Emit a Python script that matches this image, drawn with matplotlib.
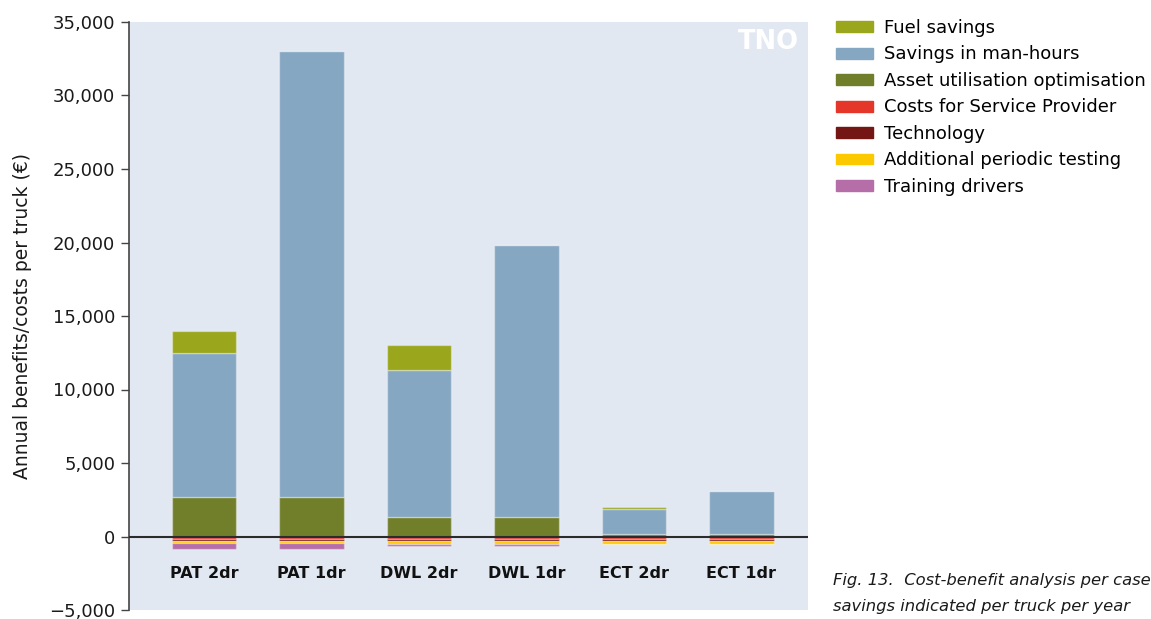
import numpy as np
import matplotlib
matplotlib.use("Agg")
import matplotlib.pyplot as plt
from matplotlib.patches import Patch
from matplotlib.ticker import FuncFormatter

# Cost-benefit per case (EUR per truck per year)
cases = ['PAT 2dr', 'PAT 1dr', 'DWL 2dr', 'DWL 1dr', 'ECT 2dr', 'ECT 1dr']

# benefits (stacked upwards)
asset_utilisation = [2700, 2700, 1300, 1300, 200, 180]
man_hours = [9800, 30350, 10000, 18500, 1640, 2930]
fuel_savings = [1500, 0, 1750, 0, 180, 0]

# costs (stacked downwards)
service_provider = [-140, -140, -140, -140, -140, -140]
technology = [-140, -140, -140, -140, -180, -200]
periodic_testing = [-180, -180, -200, -200, -180, -180]
training_drivers = [-400, -400, -180, -180, 0, 0]

kleuren = {
    'fuel': '#9aa61c',
    'man': '#86a7c2',
    'asset': '#727f2a',
    'service': '#e5362a',
    'tech': '#741613',
    'test': '#fcc800',
    'train': '#b56ea8',
}
bg = '#e2e8f2'

plt.rcParams['font.family'] = ['DejaVu Sans']

fig = plt.figure(figsize=(11.51, 6.19), dpi=100)
ax = fig.add_axes([129 / 1151, 1 - 610 / 619, (808 - 129) / 1151, (610 - 22) / 619])
ax.set_facecolor(bg)

x = np.arange(len(cases))
largura = 0.6
rand = dict(edgecolor=(1, 1, 1, 0.35), linewidth=1)

# positieve stapel
onder = np.zeros(len(cases))
for vals, k in [(asset_utilisation, 'asset'), (man_hours, 'man'), (fuel_savings, 'fuel')]:
    v = np.array(vals, dtype=float)
    ax.bar(x, v, largura, bottom=onder, color=kleuren[k], **rand)
    onder += v

# negatieve stapel
onder = np.zeros(len(cases))
for vals, k in [(service_provider, 'service'), (technology, 'tech'),
                (periodic_testing, 'test'), (training_drivers, 'train')]:
    v = np.array(vals, dtype=float)
    ax.bar(x, v, largura, bottom=onder, color=kleuren[k], **rand)
    onder += v

ax.axhline(0, color='#2b2b2b', linewidth=1.5, zorder=5)

ax.set_xlim(-0.70, 5.62)
ax.set_ylim(-5000, 35000)
ax.set_yticks(np.arange(-5000, 35001, 5000))
ax.yaxis.set_major_formatter(FuncFormatter(lambda v, p: f'{v:,.0f}'.replace('-', '\u2212')))
ax.tick_params(axis='y', length=6, width=1, color='#444444', labelsize=13, labelcolor='#1a1a1a', pad=4)
ax.set_xticks([])
for s in ['top', 'right', 'bottom']:
    ax.spines[s].set_visible(False)
ax.spines['left'].set_color('#444444')
ax.spines['left'].set_linewidth(1.2)

ax.set_ylabel('Annual benefits/costs per truck (€)', fontsize=13.5, color='#1a1a1a', labelpad=12)

# casus labels binnen het plotvlak
for xi, naam in zip(x, cases):
    ax.text(xi, -2550, naam, ha='center', va='center', fontsize=11.5, fontweight='bold', color='#111111')

# TNO logo
ax.text(0.987, 0.988, 'TNO', transform=ax.transAxes, ha='right', va='top',
        fontsize=18.5, fontweight='heavy', color='white')

# legenda
handles = [
    Patch(color=kleuren['fuel'], label='Fuel savings'),
    Patch(color=kleuren['man'], label='Savings in man-hours'),
    Patch(color=kleuren['asset'], label='Asset utilisation optimisation'),
    Patch(color=kleuren['service'], label='Costs for Service Provider'),
    Patch(color=kleuren['tech'], label='Technology'),
    Patch(color=kleuren['test'], label='Additional periodic testing'),
    Patch(color=kleuren['train'], label='Training drivers'),
]
fig.legend(handles=handles, loc='upper left', bbox_to_anchor=(836 / 1151, 1 - 19 / 619),
           frameon=False, fontsize=13.0, handlelength=2.05, handleheight=0.55,
           handletextpad=0.6, labelspacing=0.47, borderaxespad=0, borderpad=0)

# bijschrift
fig.text(833 / 1151, 1 - 581 / 619, 'Fig. 13.  Cost-benefit analysis per case',
         fontsize=11.8, style='italic', va='center', ha='left', color='#1a1a1a')
fig.text(833 / 1151, 1 - 606 / 619, 'savings indicated per truck per year',
         fontsize=11.8, style='italic', va='center', ha='left', color='#1a1a1a')

fig.savefig('out.png', dpi=100, facecolor='white')
